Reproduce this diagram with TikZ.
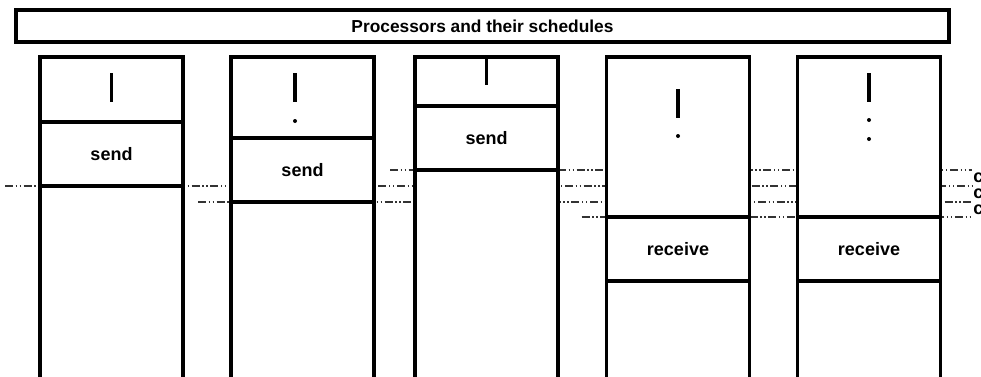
\documentclass[tikz,border=0pt]{standalone}
\usepackage{fontspec}
\setmainfont{Liberation Sans}
\usetikzlibrary{positioning,backgrounds}

\begin{document}
\begin{tikzpicture}[
    x=0.75pt, y=-0.75pt,
    node distance=0pt,
    titlebox/.style={rectangle, draw=black, line width=2.4pt, minimum width=699.75pt, minimum height=24pt, font=\bfseries\fontsize{13}{15}\selectfont},
    sec/.style={rectangle, draw=black, line width=2.4pt, fill=white, outer sep=0pt, inner sep=0pt, minimum width=107.25pt, font=\bfseries\fontsize{13.5}{15}\selectfont},
    slot/.style={sec, minimum height=48pt},
    rest/.style={sec, minimum height=200pt},
    sync/.style={draw=black!80, line width=0.8pt, dash pattern=on 6pt off 2pt on 1pt off 2pt on 1pt off 2pt},
    cut/.style={anchor=west, inner sep=0pt, font=\bfseries\fontsize{13.5}{15}\selectfont},
    schedbar/.style={line width=2.4pt},
]
\useasboundingbox (0,0) rectangle (981,376);
\clip (0,0) rectangle (981,376);

% Title
\node[titlebox] (title) at (482.5,26) {Processors and their schedules};

% Processor 1
\node[sec, minimum height=48.75pt, anchor=north] (p1top) at (111.5,57) {};
\node[slot, below=of p1top] (p1send) {send};
\node[rest, below=of p1send] (p1rest) {};

% Processor 2
\node[sec, minimum height=60.75pt, anchor=north] (p2top) at (302.5,57) {};
\node[slot, below=of p2top] (p2send) {send};
\node[rest, below=of p2send] (p2rest) {};

% Processor 3
\node[sec, minimum height=36.75pt, anchor=north] (p3top) at (486.5,57) {};
\node[slot, below=of p3top] (p3send) {send};
\node[rest, below=of p3send] (p3rest) {};

% Processor 4
\node[sec, minimum height=120pt, anchor=north] (p4top) at (678,57) {};
\node[slot, below=of p4top] (p4recv) {receive};
\node[rest, below=of p4recv] (p4rest) {};

% Processor 5
\node[sec, minimum height=120pt, anchor=north] (p5top) at (869,57) {};
\node[slot, below=of p5top] (p5recv) {receive};
\node[rest, below=of p5recv] (p5rest) {};

% Earlier work in each schedule
\draw[schedbar] (111.5,73) -- (111.5,102);
\draw[schedbar] (295,73) -- (295,102);
\fill (295,121) circle (2);
\draw[schedbar] (p3top.north) -- ++(0,28);
\draw[schedbar] (678,89) -- (678,118);
\fill (678,136) circle (2);
\draw[schedbar] (869,73) -- (869,102);
\fill (869,120) circle (2);
\fill (869,139) circle (2);

% Time marks
\coordinate (edge) at (972,0);
\begin{scope}[on background layer]
\draw[sync] ([xshift=-26.25pt]p1send.south west) -- (p1send.south -| edge);
\draw[sync] ([xshift=-24.75pt]p2send.south west) -- (p2send.south -| edge);
\draw[sync] ([xshift=-18.75pt]p3send.south west) -- (p3send.south -| edge);
\draw[sync] ([xshift=-18.75pt]p4recv.north west) -- (p4recv.north -| edge);
\end{scope}

% Labels at the right edge
\node[cut] (c1) at (973,178) {c};
\node[cut] (c2) at (973,194) {c};
\node[cut] (c3) at (973,210) {c};

\end{tikzpicture}
\end{document}
